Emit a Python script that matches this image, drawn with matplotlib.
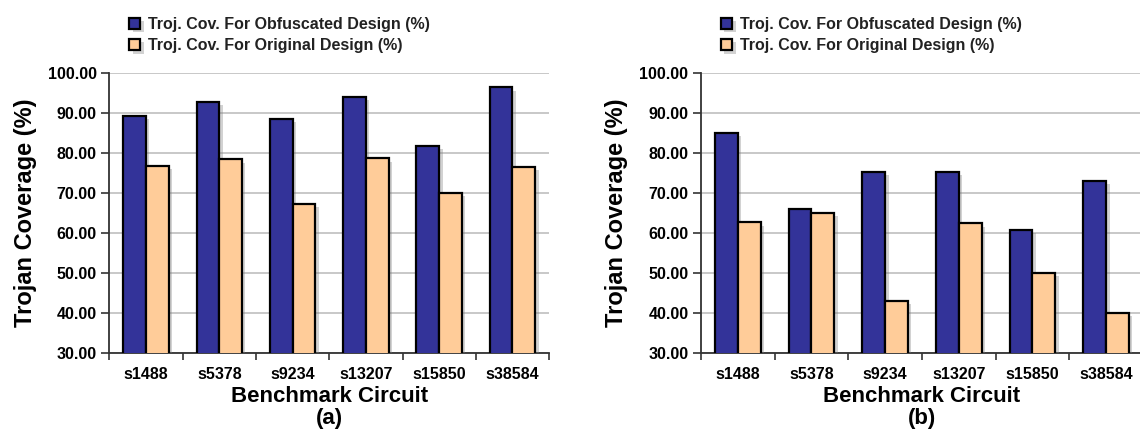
import numpy as np
import matplotlib
matplotlib.use("Agg")
import matplotlib.pyplot as plt
import matplotlib.patheffects as pe

plt.rcParams['font.family'] = ['Liberation Sans', 'DejaVu Sans']

# Data
circuits = ['s1488', 's5378', 's9234', 's13207', 's15850', 's38584']
obf_a = [89.3, 92.7, 88.5, 94.0, 81.8, 96.4]
orig_a = [76.8, 78.4, 67.2, 78.6, 70.0, 76.5]
obf_b = [85.0, 66.0, 75.2, 75.2, 60.7, 73.0]
orig_b = [62.6, 65.0, 43.0, 62.4, 50.0, 40.0]
panel_tags = ['(a)', '(b)']
legend_labels = ['Troj. Cov. For Obfuscated Design (%)',
                 'Troj. Cov. For Original Design (%)']

blue = '#333399'
peach = '#ffcc99'

fig = plt.figure(figsize=(11.4, 4.38), dpi=100)
ax_a = fig.add_axes([0.0959, 0.1947, 0.3858, 0.6393])
ax_b = fig.add_axes([0.6149, 0.1947, 0.3877, 0.6393])

shadow = [pe.SimplePatchShadow(offset=(2.5, -2.5), shadow_rgbFace='gray', alpha=0.35),
          pe.Normal()]


def draw_panel(ax, obf, orig, tag):
    x = np.arange(len(circuits))
    w = 0.31
    b1 = ax.bar(x - w / 2, obf, w, color=blue, edgecolor='black', linewidth=1.6,
                zorder=3, label=legend_labels[0])
    b2 = ax.bar(x + w / 2, orig, w, color=peach, edgecolor='black', linewidth=1.6,
                zorder=3, label=legend_labels[1])
    for p in list(b1) + list(b2):
        p.set_path_effects(shadow)

    ax.set_xlim(-0.5, len(circuits) - 0.5)
    ax.set_ylim(30, 100)
    ax.set_yticks(np.arange(30, 101, 10))
    ax.set_yticklabels([f'{v:.2f}' for v in np.arange(30, 101, 10)],
                       fontsize=11.5, fontweight='bold')
    ax.set_xticks(x)
    ax.set_xticklabels(circuits, fontsize=11.5, fontweight='bold')
    ax.set_xticks(np.arange(-0.5, len(circuits), 1), minor=True)
    ax.tick_params(axis='x', which='major', length=0, pad=10)
    ax.tick_params(axis='x', which='minor', length=5, width=1.2, color='#333333')
    ax.tick_params(axis='y', length=6, width=1.2, color='#333333', pad=3)

    ax.grid(axis='y', color='#c8c8c8', linewidth=1.4, zorder=0)
    ax.set_axisbelow(True)
    for s in ['top', 'right']:
        ax.spines[s].set_visible(False)
    for s in ['left', 'bottom']:
        ax.spines[s].set_color('#333333')
        ax.spines[s].set_linewidth(1.3)

    ax.set_ylabel('Trojan Coverage (%)', fontsize=17, fontweight='bold', labelpad=8)
    ax.set_xlabel('Benchmark Circuit\n' + tag, fontsize=16, fontweight='bold',
                  labelpad=3, linespacing=1.1)

    leg = ax.legend(loc='upper left', bbox_to_anchor=(0.045, 1.20), frameon=False,
                    prop={'size': 11.5, 'weight': 'bold'}, handlelength=0.7,
                    handleheight=0.7, handletextpad=0.5, labelspacing=0.4,
                    borderpad=0, borderaxespad=0)
    for t in leg.get_texts():
        t.set_color('#222222')


draw_panel(ax_a, obf_a, orig_a, panel_tags[0])
draw_panel(ax_b, obf_b, orig_b, panel_tags[1])

fig.savefig('out.png', dpi=100)
